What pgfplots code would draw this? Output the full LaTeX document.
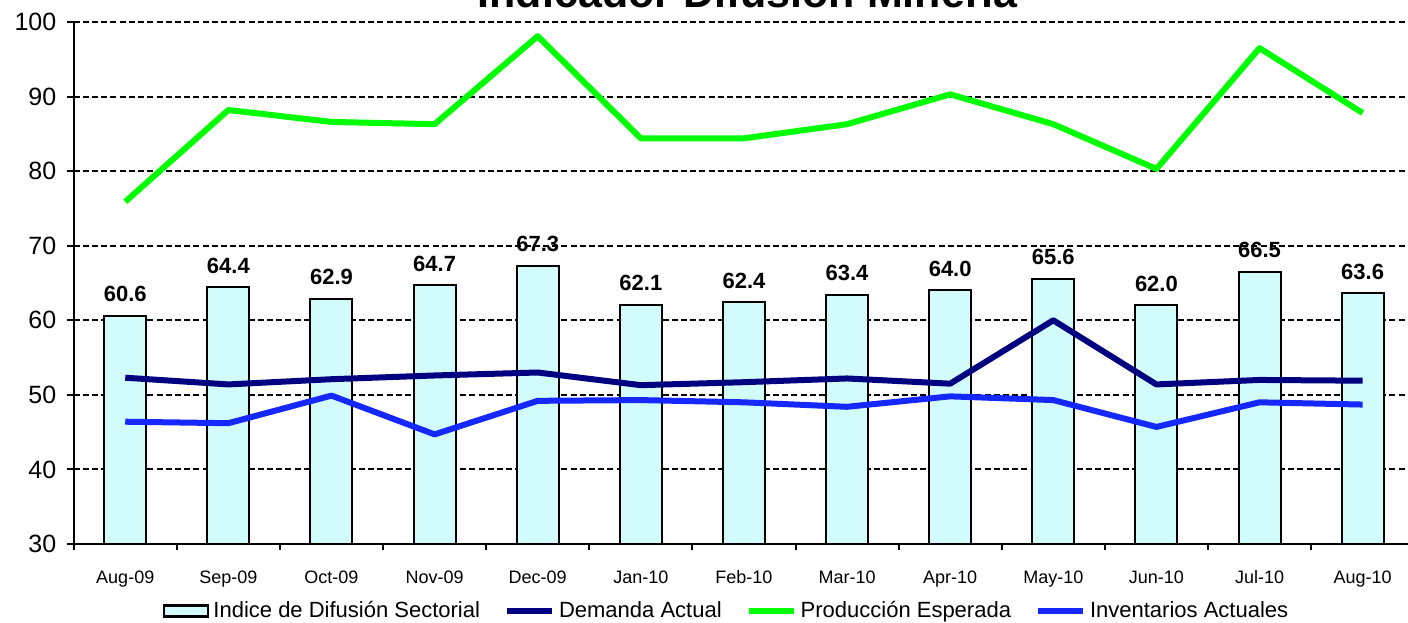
\documentclass[border=0pt]{standalone}
\usepackage{fontspec}
\setmainfont{Liberation Sans}
\usepackage{pgfplots}
\pgfplotsset{compat=1.18}
\definecolor{barfill}{RGB}{210,252,252}
\definecolor{navyline}{RGB}{0,0,128}
\definecolor{greenline}{RGB}{0,255,0}
\definecolor{blueline}{RGB}{20,40,255}

\pgfplotstableread{
x bar demanda produccion inventarios
0  60.6 52.3 75.9 46.4
1  64.4 51.4 88.2 46.2
2  62.9 52.1 86.6 49.9
3  64.7 52.6 86.3 44.7
4  67.3 53.0 98.1 49.2
5  62.1 51.3 84.4 49.3
6  62.4 51.7 84.4 49.0
7  63.4 52.2 86.3 48.4
8  64.0 51.5 90.3 49.8
9  65.6 60.0 86.3 49.3
10 62.0 51.4 80.3 45.7
11 66.5 52.0 96.5 49.0
12 63.6 51.9 87.8 48.7
}\datatable

\begin{document}
\begin{tikzpicture}
\begin{axis}[
  name=ax,
  at={(0,0)}, anchor=south west,
  scale only axis,
  width=667.15pt, height=261pt,
  xmin=-0.5, xmax=12.44,
  ymin=30, ymax=100,
  ytick={30,40,...,100},
  xtick={0,...,12},
  xticklabels={Aug-09,Sep-09,Oct-09,Nov-09,Dec-09,Jan-10,Feb-10,Mar-10,Apr-10,May-10,Jun-10,Jul-10,Aug-10},
  minor xtick={-0.5,0.5,...,12.5},
  axis x line=bottom, axis y line=left,
  axis line style={-, line width=1pt, black},
  tick align=outside,
  major tick length=3.5pt,
  minor tick length=3pt,
  major x tick style={draw=none},
  tick style={line width=1pt, black},
  ymajorgrids=true,
  major grid style={black, dash pattern=on 3pt off 1.6pt, line width=1pt},
  /pgf/number format/assume math mode=true,
  yticklabel style={font=\fontsize{12.5}{15}\selectfont, anchor=east, inner sep=0pt, xshift=-5pt},
  xticklabel style={font=\fontsize{9}{11}\selectfont, anchor=base, inner sep=0pt, yshift=-16pt},
  legend columns=4,
  legend style={at={(axis description cs:0.49,0)}, anchor=center, yshift=-33.5pt, draw=none, fill=none,
    font=\fontsize{11}{13}\selectfont, inner sep=0pt,
    /tikz/every even column/.append style={column sep=10pt}},
  legend image code/.code={\draw[#1] (0pt,0pt) -- (22.5pt,0pt);},
  clip=true,
]
\addplot[ybar, bar width=21pt, fill=barfill, draw=black, line width=1pt,
  nodes near coords={\textbf{\pgfmathprintnumber[fixed,fixed zerofill,precision=1,assume math mode=true]{\pgfplotspointmeta}}},
  nodes near coords style={anchor=base, yshift=7pt, font=\fontsize{11}{13}\selectfont, text=black, inner sep=0pt},
  legend image code/.code={\draw[black, line width=1.3pt, fill=barfill] (0pt,-2.75pt) rectangle (22pt,2.75pt);}
  ] table[x=x, y=bar] {\datatable};
\addlegendentry{Indice de Difusión Sectorial}
\addplot[navyline, line width=3pt, line join=round] table[x=x, y=demanda] {\datatable};
\addlegendentry{Demanda Actual}
\addplot[greenline, line width=3pt, line join=round] table[x=x, y=produccion] {\datatable};
\addlegendentry{Producción Esperada}
\addplot[blueline, line width=3pt, line join=round] table[x=x, y=inventarios] {\datatable};
\addlegendentry{Inventarios Actuales}
\end{axis}
\node[font=\bfseries\fontsize{21.5}{25}\selectfont, anchor=base] at (337pt,268pt) {Indicador Difusión Minería};
\pgfresetboundingbox
\useasboundingbox (-36.85pt,-39pt) rectangle (667.15pt,272pt);
\end{tikzpicture}
\end{document}
